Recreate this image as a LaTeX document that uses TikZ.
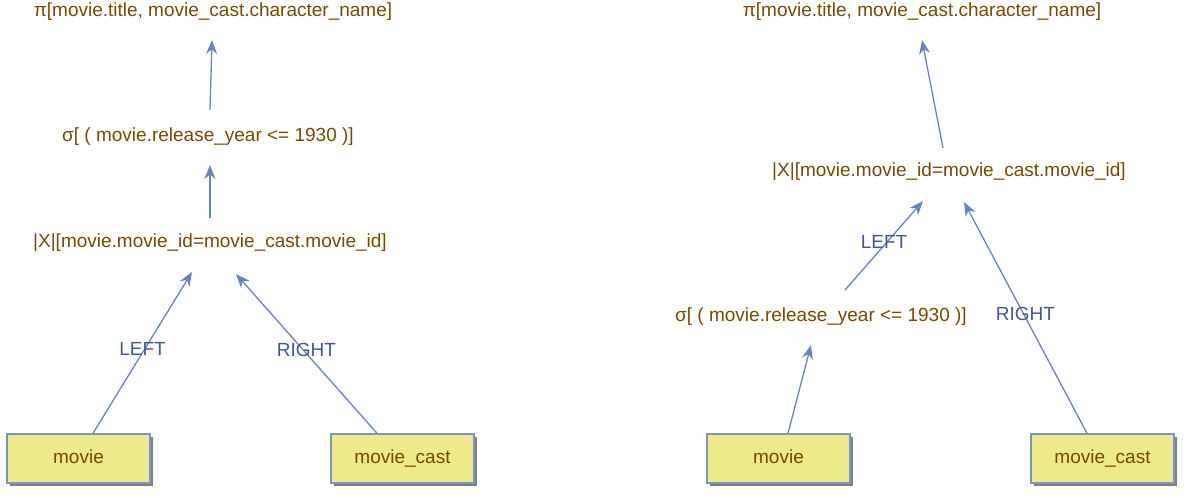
\documentclass[tikz,border=0pt]{standalone}
\usepackage{fontspec}
\setmainfont{Liberation Sans}
\usepackage{tikz}
\usetikzlibrary{arrows.meta}
\usetikzlibrary{shadows}
\definecolor{optext}{RGB}{122,72,0}
\definecolor{edgeblue}{RGB}{104,132,192}
\definecolor{sidetext}{RGB}{64,88,150}
\definecolor{relfill}{RGB}{238,234,138}
\definecolor{relline}{RGB}{122,150,200}

\begin{document}
\begin{tikzpicture}[x=1pt,y=-1pt]
      \newcommand{\side}[1]{node[midway,yshift=4pt,font=\fontsize{19}{22}\selectfont] {\textcolor{sidetext}{#1}}}
      \tikzstyle{dedge} = [line width=1.3pt,-{Stealth[length=14pt,width=11pt]},draw=edgeblue]
      \tikzstyle{op}=[
        text=optext,
        anchor=center,
        inner sep=0pt,
        font=\fontsize{19}{22}\selectfont,
      ]
      \tikzstyle{rel}=[
        draw=relline,
        line width=1.5pt,
        fill=relfill,
        text=optext,
        text height=13pt,
        text depth=4pt,
        minimum width=143pt,
        minimum height=49pt,
        font=\fontsize{19}{22}\selectfont,
        drop shadow={shadow xshift=3pt,shadow yshift=-3pt,fill=black!50,opacity=1},
      ]
      \useasboundingbox (0,0) rectangle (1189,498);

      % left plan
      \node[op] (p1) at (213,12) {π[movie.title, movie\_cast.character\_name]};
      \node[op] (s1) at (208,137) {σ[ ( movie.release\_year <= 1930 )]};
      \node[op] (j1) at (210,243) {|X|[movie.movie\_id=movie\_cast.movie\_id]};
      \node[rel] (m1) at (78.5,458.5) {movie};
      \node[rel] (c1) at (402.5,458.5) {movie\_cast};
      \coordinate (p1in) at (212,40);
      \coordinate (s1out) at (210,110);
      \coordinate (s1in) at (210,165);
      \coordinate (j1out) at (210,218);
      \coordinate (j1l) at (192,272);
      \coordinate (j1r) at (236,274);

      \draw[dedge] (s1out)--(p1in);
      \draw[dedge] (j1out)--(s1in);
      \draw[dedge] ([xshift=14.5pt]m1.north)--(j1l) \side{LEFT};
      \draw[dedge] ([xshift=-25.5pt]c1.north)--(j1r) \side{RIGHT};

      % right plan
      \node[op] (p2) at (922,12) {π[movie.title, movie\_cast.character\_name]};
      \node[op] (j2) at (949,172) {|X|[movie.movie\_id=movie\_cast.movie\_id]};
      \node[op] (s2) at (821,317) {σ[ ( movie.release\_year <= 1930 )]};
      \node[rel] (m2) at (778.5,458.5) {movie};
      \node[rel] (c2) at (1102.5,458.5) {movie\_cast};
      \coordinate (p2in) at (922,40);
      \coordinate (j2out) at (943,148);
      \coordinate (j2l) at (923,201);
      \coordinate (j2r) at (964,202);
      \coordinate (s2out) at (845,290);
      \coordinate (s2in) at (811,345);

      \draw[dedge] (j2out)--(p2in);
      \draw[dedge] (s2out)--(j2l) \side{LEFT};
      \draw[dedge] ([xshift=-15.5pt]c2.north)--(j2r) \side{RIGHT};
      \draw[dedge] ([xshift=9.5pt]m2.north)--(s2in);
    \end{tikzpicture}
\end{document}
